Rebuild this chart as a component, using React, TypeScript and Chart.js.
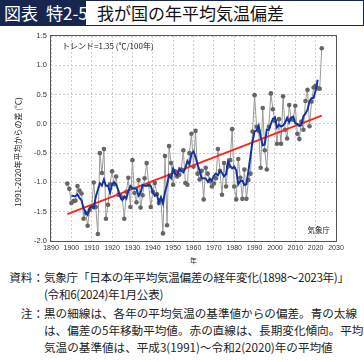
import React, { useEffect, useRef } from "react";
import { Chart, registerables } from "chart.js";

Chart.register(...registerables);

// ---- data ----
const startYear = 1898;
const anomalies: number[] = [
  -1.02, -1.11,
  -1.35, -1.32, -1.31, -1.06, -1.14, -1.19, -1.62, -1.52, -1.74, -1.47,
  -1.42, -1.0, -1.42, -1.88, -0.5, -0.84, -0.43, -1.62, -1.38, -1.03,
  -0.81, -1.03, -0.9, -1.21, -1.22, -1.27, -1.62, -1.16, -0.92, -1.42,
  -0.62, -1.18, -1.34, -0.96, -1.43, -1.22, -0.93, -0.67, -1.04, -1.42,
  -1.16, -1.01, -1.2, -1.35, -1.3, -1.87, -0.55, -1.73, -0.38, -0.67,
  -1.04, -0.81, -0.9, -0.87, -0.78, -0.45, -1.01, -1.04, -0.5, -0.17,
  -0.73, -0.12, -0.85, -0.95, -0.8, -1.29, -0.75, -0.85, -0.98, -1.07,
  -1.02, -0.93, -0.43, -0.8, -1.21, -0.67, -1.07, -0.73, -0.62, -0.09,
  -1.07, -1.29, -0.6, -0.92, -1.28, -0.78, -1.28, -0.96, -0.85, -0.13,
  0.49, -0.05, -0.12, -0.75, 0.27, -0.45, -0.78, -0.05, 0.52, 0.25,
  0.05, -0.34, 0.08, -0.34, 0.47, -0.1, -0.25, 0.32, 0.08, 0.07,
  0.31, -0.17, -0.26, 0.04, -0.1, 0.39, 0.58, -0.04, 0.38, 0.62,
  0.65, 0.61, 0.6, 1.29,
];
const trendYears = [1898, 2023];
const trendValues = [-1.54, 0.14];
const trendLabel = "トレンド=1.35 (℃/100年)";
const yAxisTitle = "1991-2020年平均からの差 (℃)";
const xAxisTitle = "年";
const sourceLabel = "気象庁";

const NAVY = "#16264f";
const CJK = "'Noto Sans CJK JP', sans-serif";

export default function App() {
  const ref = useRef<HTMLCanvasElement>(null);

  useEffect(() => {
    const annual = anomalies.map((v, i) => ({ x: startYear + i, y: v }));
    // 5-year centred moving average of the annual values
    const ma: { x: number; y: number }[] = [];
    for (let i = 2; i < anomalies.length - 2; i++) {
      const s = anomalies[i - 2] + anomalies[i - 1] + anomalies[i] + anomalies[i + 1] + anomalies[i + 2];
      ma.push({ x: startYear + i, y: s / 5 });
    }
    const trend = trendYears.map((x, i) => ({ x, y: trendValues[i] }));

    const overlay = {
      id: "overlay",
      beforeDatasetsDraw(chart: any) {
        const { ctx, chartArea: a } = chart;
        ctx.save();
        ctx.strokeStyle = "#555";
        ctx.lineWidth = 1;
        ctx.strokeRect(a.left - 0.5, a.top - 0.5, a.right - a.left + 1, a.bottom - a.top + 1);
        ctx.restore();
      },
      afterDraw(chart: any) {
        const { ctx, chartArea: a } = chart;
        ctx.save();
        ctx.fillStyle = "#222";
        ctx.textBaseline = "middle";
        ctx.font = `8px ${CJK}`;
        ctx.textAlign = "left";
        ctx.fillText(trendLabel, a.left + 11, a.top + 10);
        ctx.font = `7.5px ${CJK}`;
        ctx.textAlign = "right";
        ctx.fillText(sourceLabel, a.right - 6, a.bottom - 11);
        ctx.textAlign = "center";
        ctx.font = `7px ${CJK}`;
        ctx.fillText(xAxisTitle, (a.left + a.right) / 2, a.bottom + 19);
        ctx.translate(18, 126);
        ctx.rotate(-Math.PI / 2);
        ctx.font = `8px ${CJK}`;
        ctx.fillText(yAxisTitle, 0, 0);
        ctx.restore();
      },
    };

    const chart = new Chart(ref.current as HTMLCanvasElement, {
      type: "scatter",
      data: {
        datasets: [
          {
            data: ma,
            showLine: true,
            borderColor: "#1634a0",
            borderWidth: 2,
            pointRadius: 0,
            order: 1,
          },
          {
            data: trend,
            showLine: true,
            borderColor: "#ff2418",
            borderWidth: 1.8,
            pointRadius: 0,
            order: 2,
          },
          {
            data: annual,
            showLine: true,
            borderColor: "#9a9a9a",
            borderWidth: 1,
            pointRadius: 2.3,
            pointBackgroundColor: "#666",
            pointBorderWidth: 0,
            order: 3,
          },
        ],
      },
      options: {
        animation: false,
        responsive: false,
        events: [],
        layout: { padding: { top: 10, right: 28, left: 0, bottom: 0 } },
        plugins: { legend: { display: false }, tooltip: { enabled: false } },
        scales: {
          x: {
            type: "linear",
            min: 1890,
            max: 2030,
            afterFit: (s: any) => {
              s.height = 25;
            },
            ticks: {
              stepSize: 10,
              padding: 3,
              maxRotation: 0,
              autoSkip: false,
              color: "#333",
              font: { size: 7, family: "'Liberation Sans', Arial, sans-serif" },
              callback: (v: any) => String(v),
            },
            grid: { color: "#cfcfcf", drawTicks: false, lineWidth: 1 },
            border: { display: false, dash: [2, 2] },
          },
          y: {
            min: -2,
            max: 1.5,
            afterFit: (s: any) => {
              s.width = 51;
            },
            ticks: {
              stepSize: 0.5,
              padding: 4,
              color: "#333",
              font: { size: 7.5, family: "'Liberation Sans', Arial, sans-serif" },
              callback: (v: any) => Number(v).toFixed(1),
            },
            grid: { color: "#cfcfcf", drawTicks: false, lineWidth: 1 },
            border: { display: false, dash: [2, 2] },
          },
        },
      },
      plugins: [overlay],
    } as any);
    return () => chart.destroy();
  }, []);

  return (
    <div
      style={{
        position: "absolute",
        left: 0,
        top: 0,
        width: 364,
        height: 362,
        background: "#fff",
        fontFamily: CJK,
        overflow: "hidden",
      }}
    >
      <div
        style={{
          position: "absolute",
          left: 0,
          top: 0,
          width: 364,
          height: 26,
          boxSizing: "border-box",
          border: `1px solid ${NAVY}`,
        }}
      />
      <div
        style={{
          position: "absolute",
          left: 0,
          top: 0,
          width: 86,
          height: 26,
          background: NAVY,
          color: "#fff",
          fontSize: 17,
          lineHeight: "26px",
          whiteSpace: "nowrap",
        }}
      >
        <span style={{ position: "absolute", left: 4 }}>図表</span>
        <span style={{ position: "absolute", left: 46 }}>特2-5</span>
      </div>
      <div
        style={{
          position: "absolute",
          left: 97,
          top: 0,
          fontSize: 17,
          lineHeight: "26px",
          color: "#111",
          whiteSpace: "nowrap",
        }}
      >
        我が国の年平均気温偏差
      </div>
      <canvas
        ref={ref}
        width={364}
        height={240}
        style={{ position: "absolute", left: 0, top: 26, width: 364, height: 240 }}
      />
      <div
        style={{
          position: "absolute",
          left: 0,
          top: 269,
          width: 364,
          fontSize: 11.6,
          lineHeight: "17px",
          color: "#222",
          whiteSpace: "nowrap",
        }}
      >
        <div style={{ display: "flex" }}>
          <span style={{ width: 44, textAlign: "right", flex: "none" }}>資料：</span>
          <span style={{ letterSpacing: -0.3 }}>
            気象庁「日本の年平均気温偏差の経年変化(1898～2023年)」
            <br />
            (令和6(2024)年1月公表)
          </span>
        </div>
        <div style={{ display: "flex", marginTop: 2 }}>
          <span style={{ width: 44, textAlign: "right", flex: "none" }}>注：</span>
          <span>
            黒の細線は、各年の平均気温の基準値からの偏差。青の太線
            <br />
            は、偏差の5年移動平均値。赤の直線は、長期変化傾向。平均
            <br />
            気温の基準値は、平成3(1991)～令和2(2020)年の平均値
          </span>
        </div>
      </div>
    </div>
  );
}
